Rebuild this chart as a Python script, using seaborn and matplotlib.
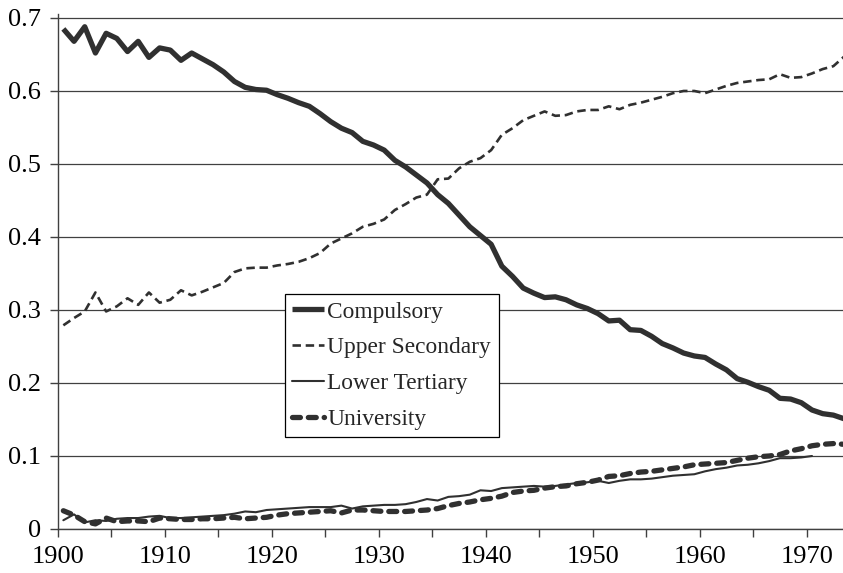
import numpy as np
import pandas as pd
import matplotlib
matplotlib.use('Agg')
import matplotlib.pyplot as plt
from matplotlib.ticker import MultipleLocator, FuncFormatter
import seaborn as sns

# Data (share of cohort by education level)
years = list(range(1900, 1974))

compulsory = [
    0.685, 0.668, 0.688, 0.652, 0.679, 0.672, 0.654, 0.668, 0.646, 0.659,
    0.656, 0.642, 0.652, 0.644, 0.636, 0.626, 0.613, 0.605, 0.602, 0.601,
    0.595, 0.590, 0.584, 0.579, 0.569, 0.558, 0.549, 0.543, 0.531, 0.526,
    0.519, 0.505, 0.496, 0.485, 0.474, 0.458, 0.446, 0.430, 0.414, 0.402,
    0.390, 0.360, 0.346, 0.330, 0.323, 0.317, 0.318, 0.314, 0.307, 0.302,
    0.295, 0.285, 0.286, 0.273, 0.272, 0.264, 0.254, 0.248, 0.241, 0.237,
    0.235, 0.226, 0.218, 0.206, 0.201, 0.195, 0.190, 0.179, 0.178, 0.173,
    0.163, 0.158, 0.156, 0.151,
]

upper_secondary = [
    0.279, 0.289, 0.298, 0.324, 0.298, 0.305, 0.316, 0.307, 0.324, 0.310,
    0.314, 0.327, 0.320, 0.325, 0.331, 0.337, 0.352, 0.357, 0.358, 0.358,
    0.361, 0.363, 0.366, 0.371, 0.378, 0.391, 0.398, 0.405, 0.414, 0.418,
    0.424, 0.437, 0.445, 0.454, 0.458, 0.479, 0.480, 0.494, 0.503, 0.508,
    0.519, 0.540, 0.549, 0.560, 0.566, 0.572, 0.566, 0.567, 0.572, 0.574,
    0.574, 0.579, 0.575, 0.581, 0.584, 0.588, 0.592, 0.597, 0.600, 0.600,
    0.597, 0.602, 0.607, 0.611, 0.613, 0.615, 0.616, 0.623, 0.618, 0.619,
    0.624, 0.630, 0.634, 0.647,
]

# ends in 1970
lower_tertiary = [
    0.012, 0.020, 0.009, 0.012, 0.011, 0.014, 0.015, 0.015, 0.017, 0.018,
    0.015, 0.015, 0.016, 0.017, 0.018, 0.019, 0.021, 0.024, 0.023, 0.026,
    0.027, 0.028, 0.029, 0.030, 0.030, 0.030, 0.032, 0.028, 0.031, 0.032,
    0.033, 0.033, 0.034, 0.037, 0.041, 0.039, 0.044, 0.045, 0.047, 0.053,
    0.052, 0.056, 0.057, 0.058, 0.059, 0.058, 0.059, 0.061, 0.063, 0.064,
    0.066, 0.063, 0.066, 0.068, 0.068, 0.069, 0.071, 0.073, 0.074, 0.075,
    0.079, 0.082, 0.084, 0.087, 0.088, 0.090, 0.093, 0.097, 0.097, 0.098,
    0.100,
]

university = [
    0.025, 0.019, 0.010, 0.007, 0.015, 0.010, 0.011, 0.011, 0.010, 0.015,
    0.014, 0.013, 0.013, 0.014, 0.014, 0.015, 0.016, 0.014, 0.015, 0.016,
    0.019, 0.021, 0.022, 0.023, 0.024, 0.025, 0.022, 0.026, 0.026, 0.025,
    0.024, 0.024, 0.024, 0.025, 0.026, 0.028, 0.032, 0.035, 0.037, 0.040,
    0.042, 0.045, 0.050, 0.052, 0.053, 0.056, 0.058, 0.059, 0.062, 0.064,
    0.067, 0.072, 0.073, 0.076, 0.078, 0.079, 0.081, 0.083, 0.085, 0.088,
    0.089, 0.090, 0.091, 0.094, 0.097, 0.099, 0.100, 0.102, 0.107, 0.110,
    0.114, 0.116, 0.117, 0.116,
]

labels = ['Compulsory', 'Upper Secondary', 'Lower Tertiary', 'University']
values = [compulsory, upper_secondary, lower_tertiary, university]

line_color = '#303030'
styles = {
    'Compulsory': dict(lw=3.8, ls='-', solid_capstyle='butt'),
    'Upper Secondary': dict(lw=1.9, ls=(0, (3.2, 1.8))),
    'Lower Tertiary': dict(lw=1.5, ls='-'),
    'University': dict(lw=3.8, ls=(0, (1.5, 1.5)), dash_capstyle='round'),
}

sns.set_style('white')
plt.rcParams['font.family'] = ['Liberation Serif', 'DejaVu Serif']

fig, ax = plt.subplots(figsize=(8.43, 5.73), dpi=100)
fig.subplots_adjust(left=0.0688, right=1.0, bottom=0.0768, top=0.975)

for name, vals in zip(labels, values):
    # Excel-style category axis: each year sits in the middle of its slot
    d = pd.DataFrame({'Year': np.array(years[:len(vals)]) + 0.5, 'Share': vals})
    sns.lineplot(data=d, x='Year', y='Share', ax=ax, label=name,
                 color=line_color, errorbar=None, **styles[name])

ax.set_xlim(1900, 1973.4)
ax.set_ylim(0, 0.705)
ax.set_xlabel('')
ax.set_ylabel('')

ax.xaxis.set_major_locator(MultipleLocator(10))
ax.xaxis.set_minor_locator(MultipleLocator(5))
ax.yaxis.set_major_locator(MultipleLocator(0.1))
ax.yaxis.set_major_formatter(FuncFormatter(lambda v, p: '0' if abs(v) < 1e-9 else f'{v:.1f}'))

ax.yaxis.grid(True, color='#404040', lw=0.9)
ax.xaxis.grid(False)
ax.set_axisbelow(True)

for side in ['top', 'right']:
    ax.spines[side].set_visible(False)
for side in ['left', 'bottom']:
    ax.spines[side].set_color('#404040')
    ax.spines[side].set_linewidth(1.0)

ax.tick_params(axis='both', which='both', direction='out', length=6, width=1,
               color='#404040', labelsize=19, labelcolor='black')
ax.tick_params(axis='x', which='both', pad=6, bottom=True)
ax.tick_params(axis='y', pad=6, left=True)

leg = ax.legend(loc='upper left', bbox_to_anchor=(0.289, 0.457), frameon=True,
                fancybox=False, edgecolor='black', framealpha=1, fontsize=16.8,
                handlelength=1.35, handletextpad=0.15, labelspacing=0.62,
                borderpad=0.32, borderaxespad=0)
leg.get_frame().set_linewidth(0.9)

plt.savefig('out.png', dpi=100)
